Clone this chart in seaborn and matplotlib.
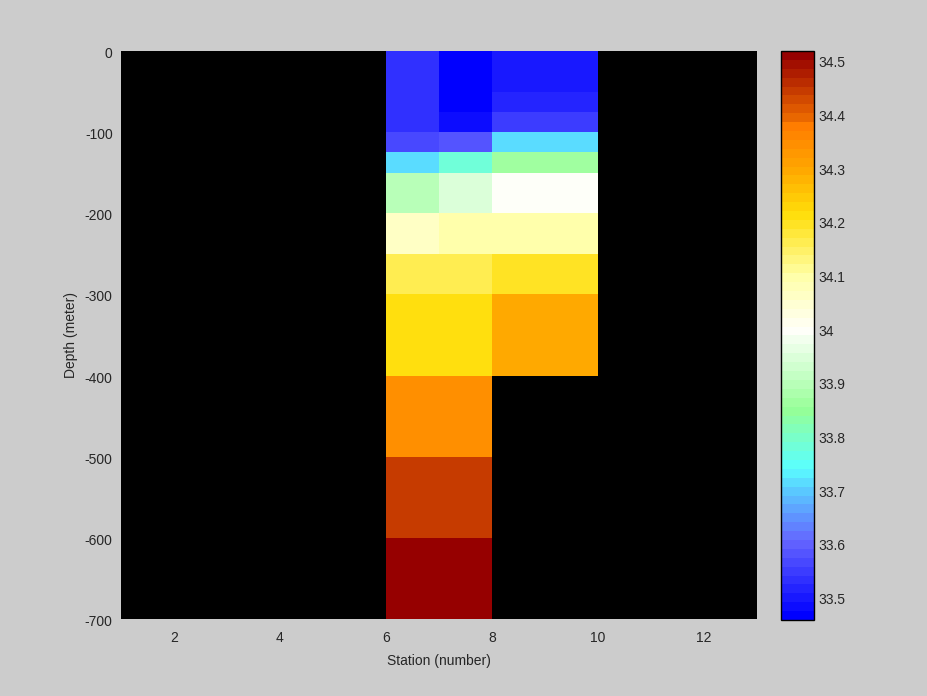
import numpy as np
import pandas as pd
import matplotlib
matplotlib.use("Agg")
import matplotlib.pyplot as plt
import matplotlib.transforms as mtransforms
import seaborn as sns
from matplotlib.colors import LinearSegmentedColormap

# =========================
# DATA (salinity section)
# =========================
station_edges = [1, 2, 3, 4, 5, 6, 7, 8, 9, 10, 11, 12, 13]
depth_edges = [0, 50, 75, 100, 125, 150, 200, 250, 300, 400, 500, 600, 700]

# one value per depth layer (0-50, 50-75, ..., 600-700)
salt_st6 = [33.535, 33.535, 33.535, 33.568, 33.72, 33.90, 34.07, 34.17, 34.22, 34.34, 34.45, 34.52]
salt_st7 = [33.46, 33.46, 33.479, 33.584, 33.78, 33.95, 34.10, 34.17, 34.22, 34.34, 34.45, 34.52]
salt_st8 = [33.50, 33.518, 33.551, 33.71, 33.87, 34.00, 34.10, 34.19, 34.30, np.nan, np.nan, np.nan]
salt_st9 = [33.50, 33.518, 33.551, 33.71, 33.87, 34.00, 34.10, 34.19, 34.30, np.nan, np.nan, np.nan]

cbar_ticks = [33.5, 33.6, 33.7, 33.8, 33.9, 34.0, 34.1, 34.2, 34.3, 34.4, 34.5]
vmin, vmax = 33.46, 34.52

# =========================
# GRID (25 m rows so heatmap cells line up with depth layers)
# =========================
dz = 25
n_rows = depth_edges[-1] // dz
stations = station_edges[:-1]
profiles = {6: salt_st6, 7: salt_st7, 8: salt_st8, 9: salt_st9}
thick = np.diff(depth_edges) // dz

grid = pd.DataFrame(np.nan, index=range(n_rows), columns=stations)
for st, vals in profiles.items():
    grid[st] = np.repeat(vals, thick)

# =========================
# COLORMAP (64 steps, blue - white - red)
# =========================
nodes = [
    (33.46, (0, 0, 255)),
    (33.60, (100, 100, 255)),
    (33.70, (90, 205, 255)),
    (33.74, (90, 255, 255)),
    (33.85, (150, 255, 150)),
    (33.92, (200, 255, 200)),
    (34.00, (255, 255, 250)),
    (34.10, (255, 255, 170)),
    (34.22, (255, 222, 10)),
    (34.30, (255, 170, 0)),
    (34.395, (255, 120, 0)),
    (34.40, (235, 105, 0)),
    (34.52, (150, 0, 0)),
]
cmap = LinearSegmentedColormap.from_list(
    "salt",
    [((v - vmin) / (vmax - vmin), tuple(c / 255 for c in col)) for v, col in nodes],
    N=64,
)

# =========================
# PLOT
# =========================
sns.set_style("white")
plt.rcParams["font.family"] = ["Liberation Sans", "DejaVu Sans"]

fig = plt.figure(figsize=(9.28, 6.96), dpi=100, facecolor="#cccccc")
ax = fig.add_axes([121 / 928, 77 / 696, 636 / 928, 568 / 696])
cax = fig.add_axes([781 / 928, 76 / 696, 33 / 928, 569 / 696])

sns.heatmap(grid, cmap=cmap, vmin=vmin, vmax=vmax, ax=ax, cbar_ax=cax,
            cbar_kws={"ticks": cbar_ticks, "format": "%g"})
ax.set_facecolor("black")

# station ticks 2,4,...,12 ; depth ticks every 100 m
xt = [2, 4, 6, 8, 10, 12]
ax.set_xticks([s - station_edges[0] for s in xt])
ax.set_xticklabels([str(s) for s in xt], rotation=0, fontsize=10)
yt = list(range(0, 701, 100))
ax.set_yticks([d / dz for d in yt])
ax.set_yticklabels([str(-d) if d else "0" for d in yt], rotation=0, fontsize=10)
ax.tick_params(axis="x", length=0, pad=9)
ax.tick_params(axis="y", length=0, pad=6)

# matlab-ish: depth labels sit a touch below their ticks
shift = mtransforms.ScaledTranslation(0, -3 / 100, fig.dpi_scale_trans)
for lab in ax.get_yticklabels():
    lab.set_transform(lab.get_transform() + shift)

ax.set_xlabel("Station (number)", fontsize=10, labelpad=6)
ax.set_ylabel("Depth (meter)", fontsize=10, labelpad=5)

cax.tick_params(direction="in", left=True, right=True, length=4,
                width=1, color="black", labelsize=10, pad=3)
cbar = ax.collections[0].colorbar
cbar.outline.set_linewidth(1)
cbar.outline.set_edgecolor("black")

fig.savefig("out.png", dpi=100, facecolor=fig.get_facecolor())
